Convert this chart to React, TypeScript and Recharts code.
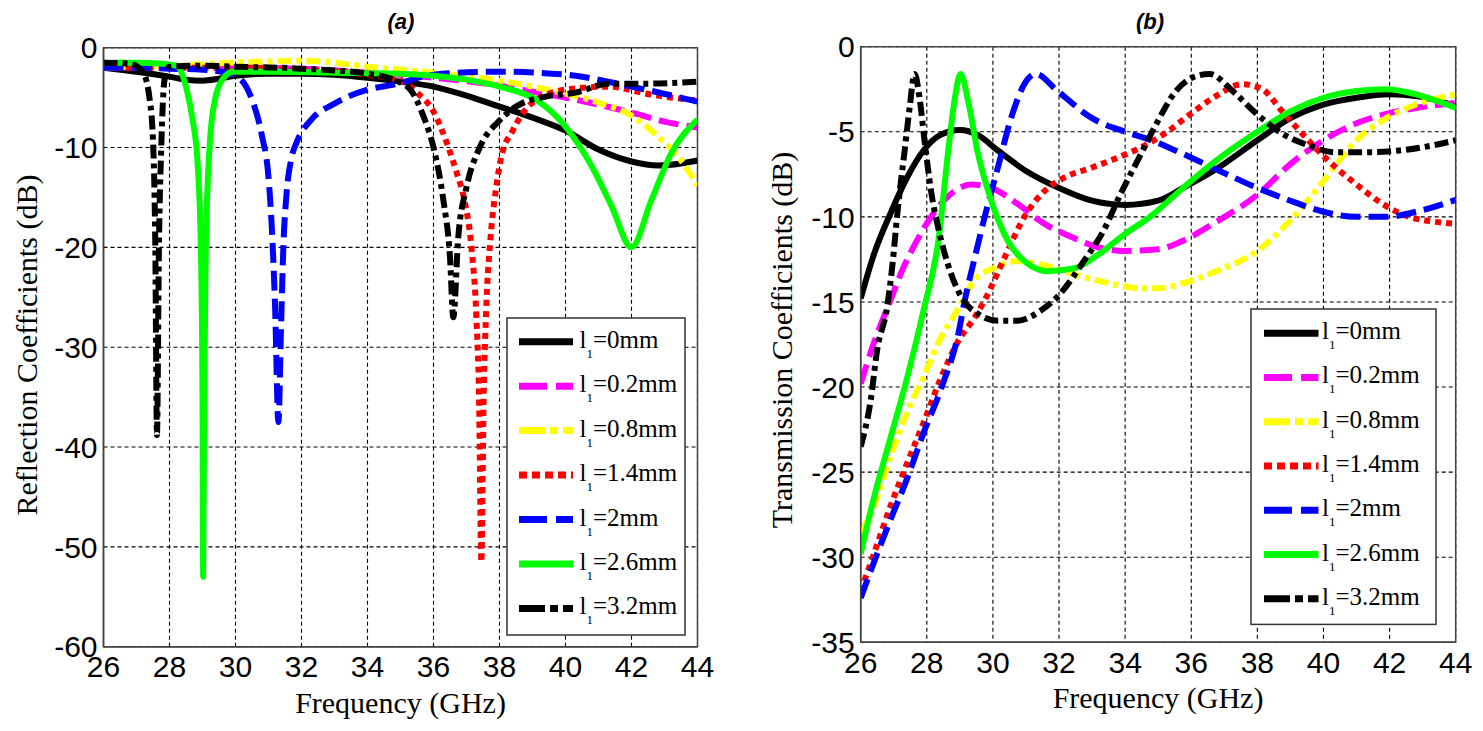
import React from 'react';
import { LineChart, Line, XAxis, YAxis, CartesianGrid, ReferenceArea } from 'recharts';

// ---------- ticks & labels ----------
const freqTicks = [26, 28, 30, 32, 34, 36, 38, 40, 42, 44];
const reflTicks = [0, -10, -20, -30, -40, -50, -60];
const transTicks = [0, -5, -10, -15, -20, -25, -30, -35];
const legendLabels = ['=0mm', '=0.2mm', '=0.8mm', '=1.4mm', '=2mm', '=2.6mm', '=3.2mm'];

// ---------- (a) reflection coefficients [GHz, dB] ----------
const refl_0: number[][] = [[26,-2.0],[27,-2.4],[28,-2.9],[28.5,-3.2],[29,-3.3],[29.5,-3.1],[30,-2.8],[31,-2.6],[32,-2.6],[33,-2.7],[34,-3.0],[35,-3.4],[36,-3.9],[37,-4.8],[38,-5.9],[39,-7.0],[40,-8.3],[41,-10.2],[42,-11.4],[42.8,-11.8],[43.5,-11.6],[44,-11.3]];
const refl_02: number[][] = [[26,-2.0],[28,-2.0],[30,-2.0],[32,-2.1],[34,-2.5],[36,-3.0],[38,-3.8],[39,-4.4],[40,-5.0],[41,-5.7],[42,-6.5],[43,-7.4],[44,-8.0]];
const refl_08: number[][] = [[26,-2.0],[28,-1.8],[30,-1.5],[32,-1.3],[33,-1.5],[34,-1.9],[36,-2.5],[38,-3.3],[39,-3.9],[40,-4.6],[41,-5.5],[42,-6.8],[42.8,-8.9],[43.5,-11.3],[44,-13.8]];
const refl_14: number[][] = [[26,-2.0],[28,-2.0],[30,-2.0],[32,-2.2],[34,-2.7],[35,-3.3],[35.5,-4.5],[36,-6.4],[36.4,-9.5],[36.7,-12.5],[36.95,-15.5],[37.15,-20],[37.3,-27],[37.38,-35],[37.45,-51.5],[37.52,-35],[37.6,-26],[37.73,-19],[37.9,-14],[38.05,-11],[38.4,-8.3],[39,-5.5],[40,-4.2],[41.3,-3.9],[42.6,-4.7],[44,-5.3]];
const refl_2: number[][] = [[26,-2.0],[27,-2.0],[28,-2.1],[29,-2.2],[29.7,-2.5],[30.1,-3.0],[30.5,-5.2],[30.8,-8.8],[31.0,-13],[31.1,-18],[31.2,-26],[31.3,-37.5],[31.38,-28],[31.45,-20],[31.55,-14.5],[31.7,-11],[31.85,-9.5],[32.3,-7.2],[33,-5.6],[34,-4.2],[34.8,-3.7],[36,-2.7],[38,-2.4],[40,-2.7],[42,-3.9],[44,-5.4]];
const refl_26: number[][] = [[26,-1.5],[27,-1.5],[27.8,-1.6],[28.2,-1.8],[28.5,-3.9],[28.7,-7.2],[28.85,-11.5],[28.95,-20],[29.0,-35],[29.02,-53],[29.05,-35],[29.1,-20],[29.23,-9.2],[29.38,-5.2],[29.6,-3.2],[29.93,-2.4],[31,-2.4],[33,-2.5],[35,-2.6],[36,-2.8],[37,-3.2],[38,-3.9],[39.1,-5.2],[40,-7.9],[40.8,-11.9],[41.4,-15.9],[42,-20],[42.6,-15.3],[43.2,-10.6],[44,-7.2]];
const refl_32: number[][] = [[26,-1.5],[26.8,-1.6],[27.2,-2.5],[27.4,-5.2],[27.5,-9.3],[27.57,-20],[27.62,-38.8],[27.68,-20],[27.75,-10],[27.85,-3.2],[28,-1.9],[29,-1.8],[30,-1.9],[32,-2.1],[34,-2.6],[35,-3.5],[35.3,-4.2],[35.7,-6.9],[36,-10],[36.3,-15.3],[36.5,-21],[36.6,-27],[36.75,-19],[37.0,-14],[37.4,-10],[38,-7.3],[38.5,-5.9],[39.4,-4.9],[40.3,-4.5],[41.3,-3.6],[42.4,-3.6],[44,-3.4]];

// ---------- (b) transmission coefficients [GHz, dB] ----------
const trans_0: number[][] = [[26,-14.8],[26.4,-12.2],[26.9,-9.8],[27.4,-7.7],[27.9,-6.1],[28.4,-5.2],[29,-4.9],[29.55,-5.2],[30.15,-6.1],[31,-7.3],[32,-8.3],[33,-9.05],[34,-9.3],[35,-9.05],[35.75,-8.3],[36.75,-7.2],[38,-5.5],[39,-4.2],[40,-3.4],[41,-3.0],[42,-2.8],[42.8,-2.9],[44,-3.5]];
const trans_02: number[][] = [[26,-19.8],[26.4,-17.4],[26.9,-14.9],[27.2,-13.4],[27.7,-11.4],[28.2,-9.8],[28.7,-8.7],[29.35,-8.1],[29.95,-8.3],[30.75,-9.25],[31.55,-10.4],[32.4,-11.2],[33.2,-11.8],[34,-12],[35,-11.9],[35.75,-11.4],[36.75,-10.3],[38,-8.7],[39,-6.9],[40,-5.5],[41,-4.5],[42,-3.9],[42.8,-3.6],[44,-3.3]];
const trans_08: number[][] = [[26,-28.6],[26.4,-27],[26.9,-24.1],[27.4,-21.5],[27.9,-19.4],[28.4,-17.2],[28.95,-15.4],[29.45,-13.7],[30.05,-13],[30.75,-12.6],[31.45,-12.8],[32.5,-13.4],[33.5,-13.9],[34.5,-14.2],[35,-14.2],[35.75,-13.9],[36.75,-13.2],[38,-12],[39,-10.2],[40,-7.9],[41,-5.5],[41.9,-4.2],[42.8,-3.4],[44,-2.8]];
const trans_14: number[][] = [[26,-32],[26.4,-29.8],[26.9,-27],[27.4,-24.5],[27.9,-22.1],[28.4,-19.6],[28.95,-17.3],[29.45,-15.9],[29.75,-14.9],[30.35,-12.4],[30.95,-10],[31.55,-8.5],[32.15,-7.7],[33,-7.1],[33.8,-6.5],[34.5,-5.9],[35.2,-5.1],[35.95,-4.0],[36.75,-2.9],[37.55,-2.2],[38.15,-2.5],[38.75,-3.8],[39.35,-5.1],[40.15,-6.7],[41,-8.1],[41.8,-9.25],[42.6,-10],[44,-10.4]];
const trans_2: number[][] = [[26,-32.4],[26.4,-30.3],[26.9,-27.8],[27.4,-25.4],[27.9,-22.7],[28.45,-20],[28.95,-16.9],[29.15,-14.9],[29.45,-12.4],[29.75,-10],[30.15,-7.1],[30.55,-4.2],[30.95,-2.2],[31.3,-1.6],[31.95,-2.6],[33,-4.2],[34,-5],[34.8,-5.5],[35.75,-6.3],[36.75,-7.2],[38,-8.3],[39,-9.05],[40,-9.7],[41,-10],[41.9,-10],[42.8,-9.7],[44,-9.0]];
const trans_26: number[][] = [[26,-29.8],[26.4,-26.5],[26.9,-23],[27.4,-19.5],[27.9,-15.5],[28.35,-11.4],[28.65,-6.1],[28.85,-3.0],[29.02,-1.6],[29.25,-3.2],[29.55,-6.3],[29.95,-9.05],[30.45,-11.4],[30.95,-12.6],[31.65,-13.2],[32.5,-13],[33.2,-12.2],[34,-11],[34.75,-10],[35.75,-8.3],[36.75,-6.7],[38,-5],[39,-3.8],[40,-3.0],[41,-2.6],[41.9,-2.5],[42.8,-2.8],[44,-3.6]];
const trans_32: number[][] = [[26,-23.5],[26.3,-20.8],[26.5,-17.8],[26.8,-15.3],[26.95,-13],[27.13,-9.4],[27.33,-6.1],[27.48,-3.6],[27.63,-1.6],[27.78,-3.0],[27.93,-5.5],[28.13,-8.5],[28.34,-10.6],[28.64,-12.8],[29.04,-14.7],[29.55,-15.7],[30.15,-16.1],[30.75,-16.1],[31.45,-15.5],[31.95,-14.7],[32.75,-12.6],[33.35,-10.8],[33.85,-8.7],[34.4,-6.6],[34.9,-4.7],[35.5,-2.7],[36.05,-1.8],[36.55,-1.6],[37.25,-2.6],[37.95,-3.9],[38.75,-5.1],[39.55,-5.8],[40.35,-6.2],[41.3,-6.2],[42.3,-6.1],[43.3,-5.8],[44,-5.5]];

const reflSeries = [refl_0, refl_02, refl_08, refl_14, refl_2, refl_26, refl_32];
const transSeries = [trans_0, trans_02, trans_08, trans_14, trans_2, trans_26, trans_32];

// ---------- styles ----------
const styles = [
  { color: '#000000', dash: undefined as string | undefined, legendDash: undefined as string | undefined },
  { color: '#FF00FF', dash: '20 8', legendDash: '28 9' },
  { color: '#FFFF00', dash: '14 5 5 5', legendDash: '26 5 8 5' },
  { color: '#FF0000', dash: '6 5', legendDash: '8 5' },
  { color: '#0000FF', dash: '20 8', legendDash: '28 9' },
  { color: '#00FF00', dash: undefined, legendDash: undefined },
  { color: '#000000', dash: '14 5 5 5', legendDash: '26 5 8 5' },
];

const toData = (pairs: number[][]) => pairs.map(([f, v]) => ({ f, v }));

const tickFont = { fill: '#000', fontSize: 30, fontFamily: '"Liberation Sans", Arial, sans-serif' };
const serif = '"Liberation Serif", "Times New Roman", serif';

function Panel(props: { series: number[][][]; yTicks: number[]; yMin: number; width: number; height: number; margin: any }) {
  const { series, yTicks, yMin, width, height, margin } = props;
  return (
    <LineChart width={width} height={height} margin={margin}>
      <CartesianGrid stroke="#000" strokeDasharray="4 3" strokeWidth={1.1} />
      <XAxis
        type="number"
        dataKey="f"
        domain={[26, 44]}
        ticks={freqTicks}
        interval={0}
        allowDataOverflow
        height={30}
        tickSize={0}
        tickMargin={9}
        axisLine={{ stroke: '#444', strokeWidth: 1.5 }}
        tick={tickFont}
      />
      <YAxis
        type="number"
        domain={[yMin, 0]}
        ticks={yTicks}
        interval={0}
        allowDataOverflow
        width={50}
        tickSize={0}
        tickMargin={6}
        axisLine={{ stroke: '#444', strokeWidth: 1.5 }}
        tick={tickFont}
      />
      <ReferenceArea x1={26} x2={44} y1={yMin} y2={0} fill="none" stroke="#444" strokeWidth={1.5} ifOverflow="visible" />
      {series.map((s, i) => (
        <Line
          key={i}
          data={toData(s)}
          dataKey="v"
          type="monotone"
          stroke={styles[i].color}
          strokeWidth={6}
          strokeDasharray={styles[i].dash}
          strokeLinecap="butt"
          strokeLinejoin="round"
          dot={false}
          activeDot={false}
          isAnimationActive={false}
        />
      ))}
    </LineChart>
  );
}

function LegendBox(props: { x: number; y: number; w: number; h: number; firstY: number; step: number; lx1: number; lx2: number; tx: number }) {
  const { x, y, w, h, firstY, step, lx1, lx2, tx } = props;
  return (
    <g>
      <rect x={x} y={y} width={w} height={h} fill="#fff" stroke="#333" strokeWidth={1.5} />
      {legendLabels.map((lab, i) => {
        const cy = firstY + i * step;
        return (
          <g key={i}>
            <line x1={lx1} x2={lx2} y1={cy} y2={cy} stroke={styles[i].color} strokeWidth={7} strokeDasharray={styles[i].legendDash} />
            <text x={tx} y={cy + 6} fontFamily={serif} fontSize={25} fill="#000">
              l<tspan dy={10} fontSize={13}>1</tspan><tspan dy={-10} fontSize={25}>{lab}</tspan>
            </text>
          </g>
        );
      })}
    </g>
  );
}

export default function App() {
  return (
    <div style={{ position: 'absolute', left: 0, top: 0, width: 1483, height: 731, background: '#fff' }}>
      <div style={{ position: 'absolute', left: 0, top: 0 }}>
        <Panel series={reflSeries} yTicks={reflTicks} yMin={-60} width={740} height={731}
          margin={{ top: 47.7, right: 42.5, left: 53.5, bottom: 54.3 }} />
      </div>
      <div style={{ position: 'absolute', left: 740, top: 0 }}>
        <Panel series={transSeries} yTicks={transTicks} yMin={-35} width={743} height={731}
          margin={{ top: 46.7, right: 27.3, left: 70.7, bottom: 58.7 }} />
      </div>
      <svg width={1483} height={731} style={{ position: 'absolute', left: 0, top: 0, pointerEvents: 'none' }}>
        <text x={401} y={29} textAnchor="middle" fontFamily='"Liberation Sans", Arial, sans-serif' fontWeight="bold" fontStyle="italic" fontSize={22}>(a)</text>
        <text x={1150} y={29} textAnchor="middle" fontFamily='"Liberation Sans", Arial, sans-serif' fontWeight="bold" fontStyle="italic" fontSize={22}>(b)</text>
        <text x={400.5} y={713} textAnchor="middle" fontFamily={serif} fontSize={30}>Frequency (GHz)</text>
        <text x={1158} y={708} textAnchor="middle" fontFamily={serif} fontSize={30}>Frequency (GHz)</text>
        <text transform="translate(37,345) rotate(-90)" textAnchor="middle" fontFamily={serif} fontSize={30}>Reflection Coefficients (dB)</text>
        <text transform="translate(792,340) rotate(-90)" textAnchor="middle" fontFamily={serif} fontSize={30}>Transmission Coefficients (dB)</text>
        <LegendBox x={507} y={318} w={178} h={317} firstY={341.7} step={44.45} lx1={519} lx2={573} tx={579.5} />
        <LegendBox x={1251} y={309} w={185} h={315.4} firstY={333.2} step={44.27} lx1={1264} lx2={1318.5} tx={1322} />
      </svg>
    </div>
  );
}
